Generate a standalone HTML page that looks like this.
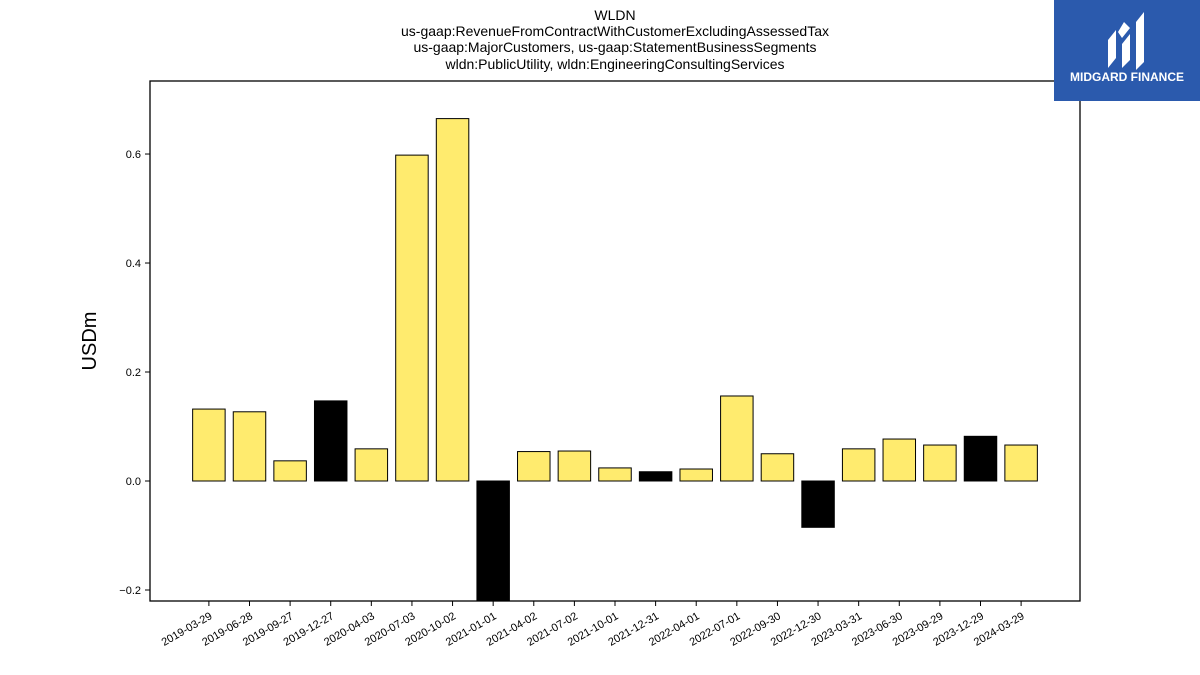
<!DOCTYPE html>
<html><head><meta charset="utf-8"><style>
body{margin:0;background:#fff;font-family:"Liberation Sans","DejaVu Sans",sans-serif;}
#wrap{position:relative;width:1200px;height:675px;overflow:hidden;}
</style></head><body>
<div id="wrap">
<svg id="chart" width="1200" height="675" xmlns="http://www.w3.org/2000/svg">
<g font-size="14" text-anchor="middle" fill="#000">
<text x="615" y="20">WLDN</text>
<text x="615" y="36">us-gaap:RevenueFromContractWithCustomerExcludingAssessedTax</text>
<text x="615" y="52">us-gaap:MajorCustomers, us-gaap:StatementBusinessSegments</text>
<text x="615" y="69">wldn:PublicUtility, wldn:EngineeringConsultingServices</text>
</g>
<text x="96" y="341" font-size="20" text-anchor="middle" transform="rotate(-90 96 341)">USDm</text>
<g id="plot"></g>
<g>
<rect x="1054" y="0" width="146" height="101" fill="#2b5aad"/>
<path d="M1108 68 L1108 40 L1116 30 L1116 58 Z M1122 68 L1122 44 L1130 34 L1130 60 Z M1136 70 L1136 22 L1144 12 L1144 62 Z M1118 32 L1124 22 L1130 28 L1122 38 Z" fill="#fff"/>
<text x="1127" y="81" font-size="12" font-weight="bold" fill="#fff" text-anchor="middle">MIDGARD FINANCE</text>
</g>
</svg>
</div>
<script>
const categories=["2019-03-29","2019-06-28","2019-09-27","2019-12-27","2020-04-03","2020-07-03","2020-10-02","2021-01-01","2021-04-02","2021-07-02","2021-10-01","2021-12-31","2022-04-01","2022-07-01","2022-09-30","2022-12-30","2023-03-31","2023-06-30","2023-09-29","2023-12-29","2024-03-29"];
const values=[0.132,0.127,0.037,0.147,0.059,0.598,0.665,-0.25,0.054,0.055,0.024,0.017,0.022,0.156,0.050,-0.085,0.059,0.077,0.066,0.082,0.066];
const highlighted=[false,false,false,true,false,false,false,true,false,false,false,true,false,false,false,true,false,false,false,true,false];
const yTicks=[-0.2,0,0.2,0.4,0.6];
const yTickLabels=["−0.2","0.0","0.2","0.4","0.6"];
const NS="http://www.w3.org/2000/svg";
const L=150,R=1080,T=81,B=601,yMin=-0.2202,yMax=0.734;
const n=categories.length,xMin=-1.45,xMax=n-1+1.45;
const xs=i=>L+(i-xMin)/(xMax-xMin)*(R-L);
const ys=v=>B-(v-yMin)/(yMax-yMin)*(B-T);
const step=xs(1)-xs(0),bw=step*0.8;
const g=document.getElementById('plot');
function mk(t,a){const e=document.createElementNS(NS,t);for(const k in a)e.setAttribute(k,a[k]);return e;}
const cp=mk('clipPath',{id:'clip'});cp.appendChild(mk('rect',{x:L,y:T,width:R-L,height:B-T}));g.appendChild(cp);
const bars=mk('g',{'clip-path':'url(#clip)'});g.appendChild(bars);
values.forEach((v,i)=>{
 const y0=ys(0),y1=ys(v);
 const r=mk('rect',{x:xs(i)-bw/2,y:Math.min(y0,y1),width:bw,height:Math.abs(y1-y0),fill:highlighted[i]?'#000':'#ffeb6e',stroke:'#000','stroke-width':1});
 
 
 bars.appendChild(r);
});
const frame=mk('rect',{x:L,y:T,width:R-L,height:B-T,fill:'none',stroke:'#000','stroke-width':1.3});


g.appendChild(frame);
yTicks.forEach((v,i)=>{
 const y=ys(v);
 g.appendChild(mk('line',{x1:L-5,x2:L,y1:y,y2:y,stroke:'#000'}));
 const t=mk('text',{x:L-9,y:y+4,'font-size':11,'text-anchor':'end'});t.textContent=yTickLabels[i];
 
 
 g.appendChild(t);
});
categories.forEach((c,i)=>{
 const x=xs(i);
 g.appendChild(mk('line',{x1:x,x2:x,y1:B,y2:B+5,stroke:'#000'}));
 const t=mk('text',{x:x+4,y:B+17,'font-size':11,'text-anchor':'end',transform:`rotate(-30 ${x+4} ${B+17})`});t.textContent=c;
 
 
 g.appendChild(t);
});
</script>
</body></html>
